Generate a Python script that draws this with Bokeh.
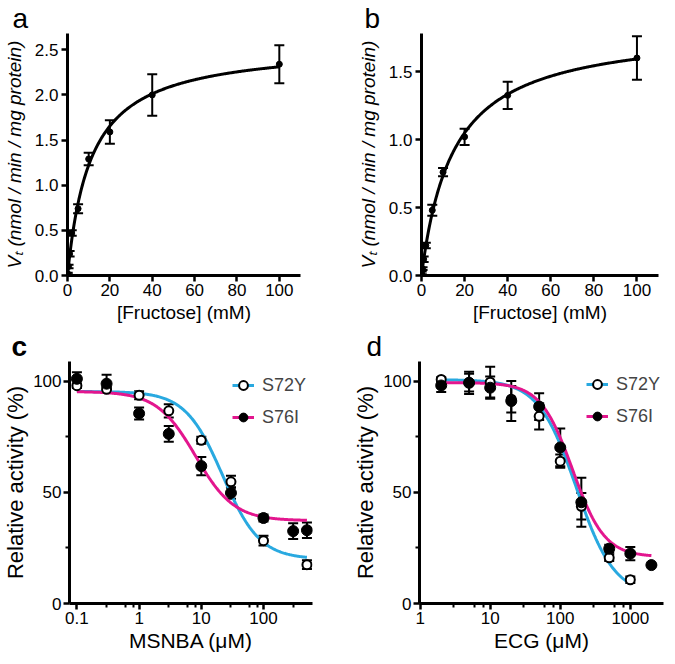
import numpy as np
from bokeh.plotting import figure
from bokeh.models import (ColumnDataSource, Whisker, TeeHead, Legend, LegendItem, Title,
                          FixedTicker, Range1d, NumeralTickFormatter, CustomJSTickFormatter)
from bokeh.layouts import row, column
from bokeh.embed import file_html
from bokeh.resources import INLINE

FONT = "Liberation Sans"
CYAN = "#29A9E0"
MAGENTA = "#E3168E"

# ---------------- data ----------------
# panels a, b : Michaelis-Menten kinetics
fructose_mM = [0.1, 0.5, 1, 2, 5, 10, 20, 40, 100]
vt_a = [0.02, 0.10, 0.24, 0.47, 0.74, 1.29, 1.59, 2.00, 2.34]
err_a = [0.01, 0.02, 0.03, 0.03, 0.05, 0.07, 0.13, 0.23, 0.21]
vmax_a, km_a = 2.565, 11.0

vt_b = [0.02, 0.05, 0.12, 0.22, 0.48, 0.76, 1.02, 1.325, 1.60]
err_b = [0.01, 0.01, 0.02, 0.02, 0.04, 0.03, 0.06, 0.10, 0.16]
vmax_b, km_b = 1.83, 14.9

# panel c : MSNBA inhibition
c_x_s72y = [0.1, 0.3, 1, 3, 10, 30, 100, 500]
c_y_s72y = [98.1, 96.5, 93.8, 86.8, 73.5, 54.8, 28.3, 17.5]
c_e_s72y = [1.0, 1.0, 1.8, 3.0, 1.6, 2.7, 2.2, 2.0]
c_x_s76i = [0.1, 0.3, 1, 3, 10, 30, 100, 300, 500]
c_y_s76i = [101.2, 99.0, 85.6, 76.4, 61.9, 49.8, 38.5, 32.6, 33.0]
c_e_s76i = [3.0, 4.0, 2.7, 3.6, 4.1, 2.6, 1.6, 3.5, 3.5]
c_fit_s72y = dict(top=95.5, bottom=20.0, ic50=22.0, hill=1.45)
c_fit_s76i = dict(top=95.5, bottom=37.3, ic50=8.1, hill=1.4)

# panel d : ECG inhibition
d_x_s72y = [2, 5, 10, 20, 50, 100, 200, 500, 1000]
d_y_s72y = [100.9, 99.5, 99.7, 92.0, 84.3, 64.1, 43.8, 20.6, 10.7]
d_e_s72y = [1.0, 4.0, 6.9, 6.0, 5.9, 3.0, 6.0, 1.5, 1.5]
d_x_s76i = [2, 5, 10, 20, 50, 100, 200, 500, 1000, 2000]
d_y_s76i = [98.2, 99.4, 97.2, 91.2, 88.7, 70.3, 45.6, 24.7, 22.5, 17.3]
d_e_s76i = [2.9, 5.0, 5.0, 9.0, 6.0, 8.5, 11.0, 1.8, 3.0, 0.0]
d_fit_s72y = dict(top=100.8, bottom=3.5, ic50=170.0, hill=1.6)
d_fit_s76i = dict(top=99.5, bottom=21.0, ic50=150.0, hill=1.9)

legend_labels = ["S72Y", "S76I"]


def mm(x, vmax, km):
    x = np.asarray(x, dtype=float)
    return vmax * x / (km + x)


def four_pl(x, top, bottom, ic50, hill):
    x = np.asarray(x, dtype=float)
    return bottom + (top - bottom) / (1.0 + (x / ic50) ** hill)


def base_fig(w, h, left, right, top, bottom, x_range, y_range, letter, letter_offset,
             bold=False, log_x=False):
    p = figure(width=w, height=h, x_range=x_range, y_range=y_range,
               x_axis_type="log" if log_x else "linear",
               output_backend="svg", toolbar_location=None, title=None,
               min_border_left=left, min_border_right=right,
               min_border_top=top, min_border_bottom=bottom)
    p.add_layout(Title(text=letter, align="left", offset=letter_offset, standoff=0,
                       text_font=FONT, text_font_size="28px",
                       text_font_style="bold" if bold else "normal",
                       text_color="black"), "above")
    p.outline_line_color = None
    p.xgrid.visible = False
    p.ygrid.visible = False
    p.background_fill_color = "white"
    p.border_fill_color = "white"
    for ax in (p.xaxis[0], p.yaxis[0]):
        ax.axis_line_width = 3
        ax.axis_line_color = "black"
        ax.major_tick_line_width = 2.5
        ax.major_tick_line_color = "black"
        ax.major_tick_out = 6
        ax.major_tick_in = 0
        ax.minor_tick_line_width = 2
        ax.minor_tick_line_color = "black"
        ax.minor_tick_out = 4
        ax.minor_tick_in = 0
        ax.major_label_text_font = FONT
        ax.major_label_text_font_size = "17px"
        ax.major_label_text_color = "black"
        ax.major_label_standoff = 2
        ax.axis_label_text_font = FONT
        ax.axis_label_text_font_style = "normal"
        ax.axis_label_text_color = "black"
        ax.axis_label_standoff = 3
    return p


def add_errors(p, xs, ys, es, size=10):
    src = ColumnDataSource(dict(x=xs, upper=[y + e for y, e in zip(ys, es)],
                                lower=[y - e for y, e in zip(ys, es)]))
    w = Whisker(base="x", upper="upper", lower="lower", source=src, dimension="height",
                line_width=2, line_color="black",
                upper_head=TeeHead(size=size, line_width=2, line_color="black"),
                lower_head=TeeHead(size=size, line_width=2, line_color="black"))
    p.add_layout(w)


def kinetics_panel(w, h, left, right, top, bottom, ymax, yticks, vt, err, vmax, km,
                   letter, letter_offset):
    p = base_fig(w, h, left, right, top, bottom, Range1d(0, 110), Range1d(0, ymax),
                 letter, letter_offset)
    p.xaxis.ticker = FixedTicker(ticks=[0, 20, 40, 60, 80, 100])
    p.yaxis.ticker = FixedTicker(ticks=yticks)
    p.yaxis.formatter = NumeralTickFormatter(format="0.0")
    p.yaxis.major_label_standoff = 3
    p.xaxis.axis_label = "[Fructose] (mM)"
    p.xaxis.axis_label_text_font_size = "19px"
    p.yaxis.axis_label = "V\u209c (nmol / min / mg protein)"
    p.yaxis.axis_label_text_font_size = "19px"
    p.yaxis.axis_label_text_font_style = "italic"
    p.yaxis.axis_label_standoff = 7
    xs = np.linspace(0, 100, 300)
    p.line(xs, mm(xs, vmax, km), line_color="black", line_width=3)
    add_errors(p, fructose_mM, vt, err, size=10)
    p.scatter(fructose_mM, vt, size=6, color="black")
    return p


def inhibition_panel(w, h, left, right, top, bottom, xr, xticks, xminor, xlabel,
                     s72, s76, letter, letter_offset, legend_xy, bold=False):
    p = base_fig(w, h, left, right, top, bottom, xr, Range1d(0, 109), letter, letter_offset,
                 bold=bold, log_x=True)
    p.xaxis.ticker = FixedTicker(ticks=xticks, minor_ticks=xminor)
    p.xaxis.formatter = CustomJSTickFormatter(code="return tick.toString()")
    p.yaxis.ticker = FixedTicker(ticks=[0, 50, 100], minor_ticks=[25, 75])
    p.xaxis.axis_label = xlabel
    p.yaxis.axis_label = "Relative activity (%)"
    p.xaxis.axis_label_text_font_size = "21px"
    p.yaxis.axis_label_text_font_size = "22px"
    p.xaxis.axis_label_standoff = 2
    p.yaxis.axis_label_standoff = 2

    (x1, y1, e1, f1), (x2, y2, e2, f2) = s72, s76
    xs1 = np.logspace(np.log10(min(x1)), np.log10(max(x1)), 300)
    xs2 = np.logspace(np.log10(min(x2)), np.log10(max(x2)), 300)
    l1 = p.line(xs1, four_pl(xs1, **f1), line_color=CYAN, line_width=3)
    l2 = p.line(xs2, four_pl(xs2, **f2), line_color=MAGENTA, line_width=3)
    add_errors(p, x1, y1, e1, size=10)
    add_errors(p, x2, y2, e2, size=10)
    m1 = p.scatter(x1, y1, size=9, fill_color="white", line_color="black", line_width=2)
    m2 = p.scatter(x2, y2, size=11, fill_color="black", line_color="black")
    leg = Legend(items=[LegendItem(label=legend_labels[0], renderers=[l1, m1]),
                        LegendItem(label=legend_labels[1], renderers=[l2, m2])],
                 location=legend_xy, background_fill_alpha=0, border_line_alpha=0,
                 padding=0, margin=0, spacing=10, glyph_width=22, glyph_height=22,
                 label_height=22, label_standoff=8,
                 label_text_font=FONT, label_text_font_size="18px",
                 label_text_baseline="middle")
    p.add_layout(leg)
    return p


# ---------------- panels ----------------
pa = kinetics_panel(332, 328, 63, 32, 31, 53, 2.68, [0, 0.5, 1.0, 1.5, 2.0, 2.5],
                    vt_a, err_a, vmax_a, km_a, "a", -55)
pb = kinetics_panel(336, 328, 89, 10, 32, 53, 1.78, [0, 0.5, 1.0, 1.5],
                    vt_b, err_b, vmax_b, km_b, "b", -57)

pc = inhibition_panel(332, 329, 63, 20, 24, 54, Range1d(0.076, 614), [0.1, 1, 10, 100],
                      [0.3, 0.6, 0.8, 3, 6, 8, 30, 60, 80, 300], "MSNBA (\u03bcM)",
                      (c_x_s72y, c_y_s72y, c_e_s72y, c_fit_s72y),
                      (c_x_s76i, c_y_s76i, c_e_s76i, c_fit_s76i),
                      "c", -58, (163, 175), bold=True)
pd_ = inhibition_panel(336, 329, 87, 5, 23, 54, Range1d(0.98, 2977), [1, 10, 100, 1000],
                       [3, 6, 8, 30, 60, 80, 300, 600, 800], "ECG (\u03bcM)",
                       (d_x_s72y, d_y_s72y, d_e_s72y, d_fit_s72y),
                       (d_x_s76i, d_y_s76i, d_e_s76i, d_fit_s76i),
                       "d", -53, (167, 176))

layout = column(row(pa, pb), row(pc, pd_))

with open("out.html", "w") as f:
    f.write(file_html(layout, INLINE))
